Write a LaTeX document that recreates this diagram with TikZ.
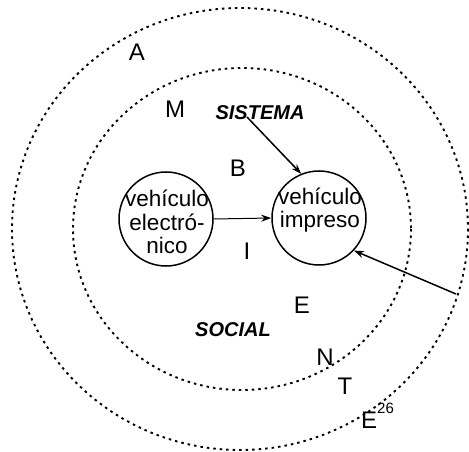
\documentclass[tikz,border=0pt]{standalone}
\usepackage{fontspec}
\setmainfont{Liberation Sans}
\usetikzlibrary{arrows.meta}
\begin{document}
\begin{tikzpicture}[x=1pt,y=-1pt,
  ring/.style={draw, line width=1.9pt, dash pattern=on 2.5pt off 4pt},
  letter/.style={font=\fontsize{24}{24}\selectfont, inner sep=0pt},
  word/.style={font=\fontsize{20}{20}\selectfont\bfseries\itshape, inner sep=0pt},
  vcircle/.style={draw, circle, line width=1.5pt, minimum size=94pt, inner sep=0pt},
  vtext/.style={font=\fontsize{22.5}{23.5}\selectfont, align=center, inner sep=0pt},
  arr/.style={line width=1.5pt, -{Stealth[length=10pt,width=7pt]}},
  thinarr/.style={line width=1pt, -{Stealth[length=10pt,width=7pt]}}]
\useasboundingbox (0,0) rectangle (469,452);
\draw[ring] (240,229) ellipse [x radius=228, y radius=221];
\draw[ring] (242,229) ellipse [x radius=169, y radius=161];

\node[vcircle] (el) at (166,219) {};
\node[vcircle] (im) at (319,218) {};
\node[vtext] (elt) at (167,222) {vehículo\\electró-\\nico};
\node[vtext] (imt) at (320,210) {vehículo\\impreso};

\node[letter] (a) at (137,52) {A};
\node[letter] (m) at (175,109) {M};
\node[word] (sis) at (260,113) {SISTEMA};
\node[letter] (b) at (238,168) {B};
\node[letter] (i) at (247,251) {I};
\node[letter] (e1) at (302,305) {E};
\node[word] (soc) at (233,330) {SOCIAL};
\node[letter] (n) at (325,357) {N};
\node[letter] (t) at (345,386) {T};
\node[letter, anchor=west] (e2) at (361,416) {E\raisebox{1.2ex}{\fontsize{15}{15}\selectfont 26}};

\coordinate (s1) at (247,117);
\coordinate (s2) at (456,294);
\draw[thinarr] (el.east) -- (im.west);
\draw[arr] (s1) -- (im.112);
\draw[arr] (s2) -- (im.-43);
\end{tikzpicture}
\end{document}
